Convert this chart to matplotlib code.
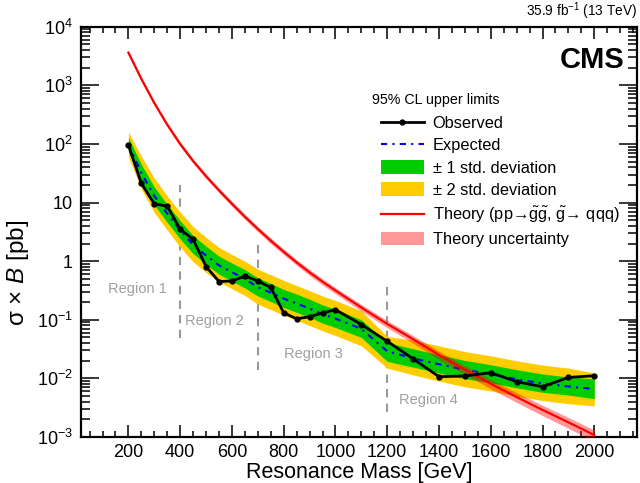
import numpy as np
import matplotlib
matplotlib.use("Agg")
from matplotlib import pyplot as plt
from matplotlib.lines import Line2D
from matplotlib.patches import Patch
from matplotlib.ticker import FuncFormatter, LogLocator, MultipleLocator, NullFormatter

plt.rcParams["font.family"] = ["Liberation Sans", "DejaVu Sans"]
plt.rcParams["mathtext.fontset"] = "custom"
plt.rcParams["mathtext.rm"] = "Liberation Sans"
plt.rcParams["mathtext.it"] = "Liberation Sans:italic"
plt.rcParams["mathtext.bf"] = "Liberation Sans:bold"

# resonance masses [GeV]
mass = [200, 250, 300, 350, 400, 450, 500, 550, 600, 650, 700, 750, 800, 850, 900,
        950, 1000, 1100, 1200, 1300, 1400, 1500, 1600, 1700, 1800, 1900, 2000]

# 95% CL limits [pb]
observed = [96, 21.3, 9.5, 8.7, 3.5, 2.37, 0.81, 0.45, 0.46, 0.56, 0.46, 0.356, 0.132, 0.104, 0.113,
            0.131, 0.149, 0.083, 0.043, 0.0216, 0.0107, 0.011, 0.0125, 0.0088, 0.0072, 0.0104, 0.0111]
expected = [100, 32, 13, 6.5, 3.4, 1.9, 1.25, 0.85, 0.65, 0.5, 0.36, 0.29, 0.23, 0.19, 0.155,
            0.125, 0.105, 0.07, 0.029, 0.022, 0.0175, 0.014, 0.0118, 0.0097, 0.0082, 0.0073, 0.0066]
exp_m1 = [75, 23, 9.2, 4.6, 2.4, 1.35, 0.88, 0.6, 0.46, 0.35, 0.255, 0.205, 0.163, 0.134, 0.11,
          0.088, 0.074, 0.05, 0.0195, 0.0156, 0.0124, 0.0099, 0.0084, 0.0069, 0.0058, 0.0052, 0.0045]
exp_p1 = [130, 45, 18.5, 9.3, 4.9, 2.75, 1.8, 1.22, 0.93, 0.72, 0.52, 0.42, 0.33, 0.275, 0.225,
          0.18, 0.152, 0.1, 0.041, 0.032, 0.0254, 0.0203, 0.0171, 0.0141, 0.0119, 0.0106, 0.0098]
exp_m2 = [60, 17, 6.8, 3.4, 1.75, 0.98, 0.64, 0.44, 0.34, 0.26, 0.185, 0.15, 0.12, 0.098, 0.08,
          0.065, 0.054, 0.036, 0.015, 0.0115, 0.009, 0.0072, 0.0061, 0.005, 0.0042, 0.0037, 0.0034]
exp_p2 = [160, 62, 26, 13, 6.9, 3.9, 2.55, 1.72, 1.3, 1.0, 0.73, 0.59, 0.47, 0.385, 0.315,
          0.255, 0.214, 0.142, 0.052, 0.045, 0.036, 0.0287, 0.0243, 0.02, 0.0169, 0.015, 0.0124]

# gluino pair production cross section [pb] and its relative uncertainty
theory = [3630, 1290, 501, 214, 100, 51.3, 28.2, 16.2, 9.55, 5.75, 3.55, 2.24, 1.45, 0.955, 0.646,
          0.447, 0.316, 0.162, 0.085, 0.0468, 0.0251, 0.0141, 0.0081, 0.0048, 0.0029, 0.00178, 0.00108]
theory_unc = [0.08, 0.08, 0.08, 0.08, 0.09, 0.09, 0.09, 0.09, 0.1, 0.1, 0.1, 0.11, 0.11, 0.11, 0.12,
              0.12, 0.12, 0.13, 0.14, 0.15, 0.16, 0.17, 0.18, 0.19, 0.2, 0.21, 0.22]

# analysis regions
region_edges = [400, 700, 1200]
region_line_lo = [0.049, 0.0139, 0.0027]
region_line_hi = [20, 2.04, 0.42]
region_names = ["Region 1", "Region 2", "Region 3", "Region 4"]
region_text_x = [123, 417, 800, 1245]
region_text_y = [0.34, 0.095, 0.026, 0.0043]

fig = plt.figure(figsize=(6.4, 4.83), dpi=100)
ax = fig.add_axes([0.1266, 0.0952, 0.8687, 0.8493])

m = np.array(mass)
th = np.array(theory)
unc = np.array(theory_unc)

ax.fill_between(m, exp_m2, exp_p2, color="#ffcc00", lw=0, zorder=1)
ax.fill_between(m, exp_m1, exp_p1, color="#00cc00", lw=0, zorder=2)
ax.plot(m, expected, color="#0000ff", lw=1.5, ls=(0, (3, 2.5, 1, 2.5)), zorder=3)
ax.fill_between(m, th * (1 - unc), th * (1 + unc), color="#ff0000", alpha=0.4, lw=0, zorder=4)
ax.plot(m, th, color="#ff0000", lw=1.6, zorder=5)
ax.plot(m, observed, color="black", lw=2, marker="o", ms=3.5, zorder=6)

for edge, lo, hi in zip(region_edges, region_line_lo, region_line_hi):
    ax.plot([edge, edge], [lo, hi], color="#999999", lw=1.5, ls=(0, (4, 3)), zorder=0.5)
for name, tx, ty in zip(region_names, region_text_x, region_text_y):
    ax.text(tx, ty, name, color="#a0a0a0", fontsize=10.5, ha="left", va="center")

ax.set_yscale("log")
ax.set_xlim(17, 2165)
ax.set_ylim(1e-3, 1e4)

ax.xaxis.set_minor_locator(MultipleLocator(50))
ax.set_xticks(range(200, 2001, 200))
ax.yaxis.set_major_locator(LogLocator(base=10, numticks=20))
ax.yaxis.set_minor_locator(LogLocator(base=10, subs=np.arange(2, 10), numticks=20))
ax.yaxis.set_minor_formatter(NullFormatter())


def _ylab(v, pos):
    e = int(round(np.log10(v)))
    if e == 0:
        return "1"
    if e == 1:
        return "10"
    return "$10^{%d}$" % e


ax.yaxis.set_major_formatter(FuncFormatter(_ylab))
ax.tick_params(which="both", direction="in", top=True, right=True, width=1.1, labelsize=13)
ax.tick_params(axis="x", which="major", length=8.6, pad=5)
ax.tick_params(axis="x", which="minor", length=4.3)
ax.tick_params(axis="y", which="major", length=13, pad=6)
ax.tick_params(axis="y", which="minor", length=6.5)
for sp in ax.spines.values():
    sp.set_linewidth(1.6)

ax.set_xlabel("Resonance Mass [GeV]", fontsize=15.5, labelpad=1)
ax.set_ylabel(r"σ × $\mathit{B}$ [pb]", fontsize=17.5)
ax.yaxis.set_label_coords(-0.09, 0.40)

ax.text(1.0, 1.012, r"35.9 fb$^{-1}$ (13 TeV)", transform=ax.transAxes, ha="right", va="bottom", fontsize=9.8)
ax.text(0.977, 0.92, "CMS", transform=ax.transAxes, ha="right", va="center", fontsize=21, fontweight="bold")

handles = [
    Line2D([], [], color="black", lw=2, marker="o", ms=3.5),
    Line2D([], [], color="#0000ff", lw=1.5, ls=(0, (3, 2.5, 1, 2.5))),
    Patch(color="#00cc00", lw=0),
    Patch(color="#ffcc00", lw=0),
    Line2D([], [], color="#ff0000", lw=1.6),
    Patch(color="#ff0000", alpha=0.4, lw=0),
]
labels = [
    "Observed",
    "Expected",
    "± 1 std. deviation",
    "± 2 std. deviation",
    r"Theory (pp→$\tilde{\mathrm{g}}\tilde{\mathrm{g}}$, $\tilde{\mathrm{g}}$→ qqq)",
    "Theory uncertainty",
]
ax.text(0.523, 0.822, "95% CL upper limits", transform=ax.transAxes, ha="left", va="center", fontsize=10.3)
ax.legend(handles, labels, loc="upper left", bbox_to_anchor=(0.5396, 0.784), frameon=False,
          fontsize=11.8, handlelength=2.6, handleheight=0.9, handletextpad=0.55, labelspacing=0.42,
          borderpad=0, borderaxespad=0)

fig.savefig("out.png", dpi=100)
